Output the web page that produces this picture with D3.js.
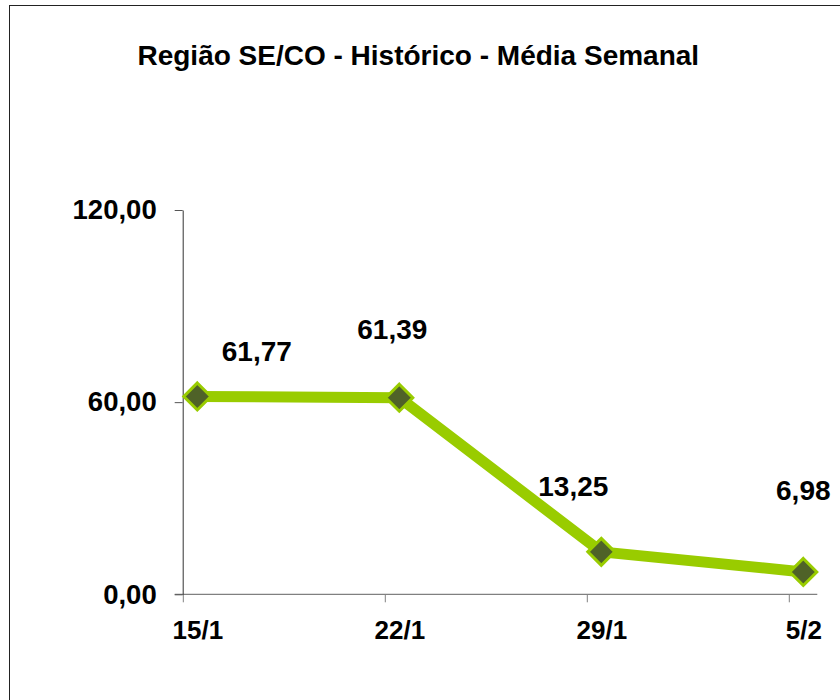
<!DOCTYPE html>
<html>
<head>
<meta charset="utf-8">
<script src="https://cdn.jsdelivr.net/npm/d3@7"></script>
<style>
  body { margin: 0; background: #fff; }
  svg { display: block; font-family: "Liberation Sans", Arial, sans-serif; }
</style>
</head>
<body>
<div class="graph-conteiner"></div>
<script>
const categories = ["15/1", "22/1", "29/1", "5/2"];
const values = [61.77, 61.39, 13.25, 6.98];
const yTicks = [0, 60, 120];
const title = "Região SE/CO - Histórico - Média Semanal";

// label offsets from the marker (dx, dy of baseline)
const labelOffsets = [[59.5, -35], [-7, -59], [-28, -56], [0, -72]];

const width = 840, height = 700;
const plot = { left: 182.7, top: 210, bottom: 594.3 };

const fmt = d => d.toFixed(2).replace(".", ",");

const svg = d3.select(".graph-conteiner").append("svg")
	.attr("width", width)
	.attr("height", height);

// chart border
svg.append("rect")
	.attr("x", 9.5).attr("y", 5.5)
	.attr("width", width).attr("height", height)
	.attr("fill", "none")
	.attr("stroke", "#222");

svg.append("text")
	.attr("x", 418.3).attr("y", 65)
	.attr("text-anchor", "middle")
	.attr("font-size", 28)
	.attr("font-weight", "bold")
	.text(title);

const x = d3.scalePoint().domain(categories).range([197.3, 803.3]);
const tickShift = 14.5;
const xTick = d3.scalePoint().domain(categories).range([197.3 - tickShift, 803.3 - tickShift]);
const y = d3.scaleLinear().domain([0, 120]).range([plot.bottom, plot.top]);

// x axis
svg.append("line")
	.attr("x1", plot.left - 8).attr("x2", x(categories[categories.length - 1]) + 14)
	.attr("y1", plot.bottom).attr("y2", plot.bottom)
	.attr("stroke", "#808080").attr("stroke-width", 1.2);

const gx = svg.append("g")
	.attr("transform", "translate(0," + plot.bottom + ")")
	.call(d3.axisBottom(xTick).tickSize(8).tickSizeOuter(0).tickPadding(18));
gx.select(".domain").remove();
gx.selectAll(".tick line").attr("stroke", "#808080");
gx.selectAll(".tick text")
	.attr("dx", tickShift)
	.attr("fill", "#000")
	.attr("font-size", 26)
	.attr("font-weight", "bold")
	.attr("font-family", "Liberation Sans, Arial, sans-serif");

// y axis
const gy = svg.append("g")
	.attr("transform", "translate(" + plot.left + ",0)")
	.call(d3.axisLeft(y).tickValues(yTicks).tickFormat(fmt).tickSize(8).tickSizeOuter(0).tickPadding(18));
gy.select(".domain").attr("stroke", "#333");
gy.selectAll(".tick line").attr("stroke", "#555");
gy.selectAll(".tick text")
	.attr("fill", "#000")
	.attr("font-size", 27.5)
	.attr("font-weight", "bold")
	.attr("font-family", "Liberation Sans, Arial, sans-serif");

const line = d3.line()
	.x((d, i) => x(categories[i]))
	.y(d => y(d));

svg.append("path")
	.datum(values)
	.attr("d", line)
	.attr("fill", "none")
	.attr("stroke", "#99CC00")
	.attr("stroke-width", 11)
	.attr("stroke-linejoin", "round");

const r = 13.5;
svg.append("g").selectAll("path")
	.data(values)
	.join("path")
	.attr("transform", (d, i) => "translate(" + x(categories[i]) + "," + y(d) + ")")
	.attr("d", "M0," + (-r) + "L" + r + ",0L0," + r + "L" + (-r) + ",0Z")
	.attr("fill", "#4F6228")
	.attr("stroke", "#99CC00")
	.attr("stroke-width", 3);

svg.append("g").selectAll("text")
	.data(values)
	.join("text")
	.attr("x", (d, i) => x(categories[i]) + labelOffsets[i][0])
	.attr("y", (d, i) => y(d) + labelOffsets[i][1])
	.attr("text-anchor", "middle")
	.attr("font-size", 28)
	.attr("font-weight", "bold")
	.text(fmt);
</script>
</body>
</html>
